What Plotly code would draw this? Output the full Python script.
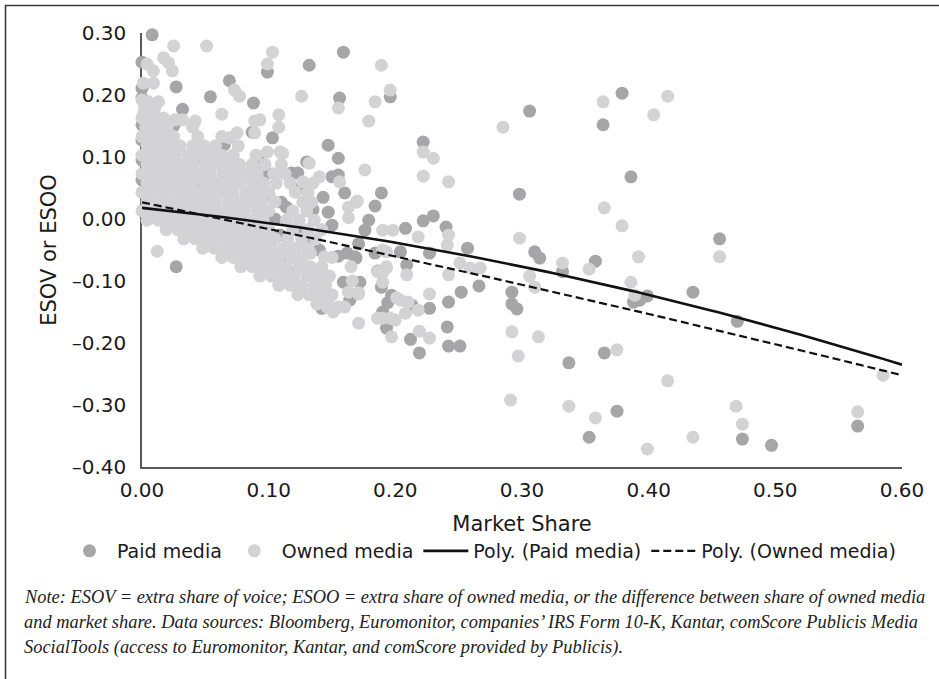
import numpy as np
import plotly.graph_objects as go

# ---------------------------------------------------------------------------
# Data: market share (x) vs. extra share of voice / owned media (y)
# ---------------------------------------------------------------------------
paid_media = [
    (0.008, 0.297), (0.000, 0.253), (0.000, 0.211), (0.000, 0.195), (0.027, 0.213),
    (0.054, 0.197), (0.069, 0.223), (0.088, 0.187), (0.099, 0.237), (0.132, 0.248),
    (0.159, 0.269), (0.156, 0.195), (0.196, 0.197), (0.032, 0.177), (0.087, 0.140),
    (0.103, 0.131), (0.147, 0.119), (0.155, 0.098), (0.222, 0.124), (0.189, 0.042),
    (0.184, 0.021), (0.160, 0.042), (0.155, 0.071), (0.150, 0.068), (0.222, -0.003),
    (0.230, 0.005), (0.240, -0.013), (0.257, -0.047), (0.208, -0.015), (0.179, -0.002),
    (0.168, -0.061), (0.162, -0.055), (0.155, -0.060), (0.184, -0.055), (0.209, -0.074),
    (0.172, -0.102), (0.189, -0.110), (0.197, -0.123), (0.194, -0.135), (0.227, -0.144),
    (0.213, -0.139), (0.193, -0.176), (0.266, -0.108), (0.252, -0.118), (0.242, -0.134),
    (0.241, -0.174), (0.242, -0.205), (0.251, -0.205), (0.219, -0.216), (0.212, -0.194),
    (0.190, -0.150), (0.186, -0.084), (0.204, -0.053), (0.171, -0.040), (0.169, -0.063),
    (0.159, -0.102), (0.164, -0.131), (0.142, -0.144), (0.292, -0.118), (0.292, -0.137),
    (0.296, -0.145), (0.306, 0.174), (0.379, 0.203), (0.364, 0.152), (0.386, 0.068),
    (0.298, 0.040), (0.456, -0.032), (0.310, -0.053), (0.314, -0.063), (0.358, -0.068),
    (0.332, -0.085), (0.399, -0.124), (0.393, -0.131), (0.388, -0.134), (0.435, -0.118),
    (0.470, -0.165), (0.337, -0.232), (0.365, -0.216), (0.375, -0.310), (0.353, -0.352),
    (0.474, -0.355), (0.497, -0.365), (0.565, -0.334), (0.027, -0.077), (0.227, -0.055),
    (0.176, -0.018), (0.150, -0.010), (0.147, 0.011), (0.143, 0.035), (0.110, 0.027),
    (0.114, 0.019), (0.099, 0.074), (0.118, 0.074), (0.123, 0.074), (0.130, 0.092),
    (0.093, 0.074), (0.076, 0.077), (0.062, 0.090), (0.020, 0.116), (0.039, 0.047),
    (0.067, 0.098), (0.092, 0.098), (0.000, 0.152), (0.000, 0.127), (0.000, 0.095),
    (0.000, 0.063), (0.135, 0.015), (0.125, -0.021), (0.109, -0.026),
    (0.005, 0.130), (0.010, 0.100), (0.015, 0.070), (0.020, 0.040), (0.030, 0.010),
    (0.045, 0.060), (0.050, 0.020), (0.060, -0.030), (0.070, 0.050), (0.080, 0.000),
    (0.085, 0.030), (0.095, -0.050), (0.100, 0.040), (0.110, -0.060), (0.120, -0.090),
    (0.125, 0.050), (0.130, -0.040), (0.140, -0.100), (0.045, 0.100), (0.025, 0.150),
    (0.035, -0.020), (0.065, 0.120), (0.105, 0.000), (0.140, -0.050),
]

owned_media = [
    (0.025, 0.279), (0.051, 0.279), (0.004, 0.250), (0.017, 0.260), (0.021, 0.252),
    (0.024, 0.239), (0.009, 0.239), (0.001, 0.219), (0.009, 0.219), (0.000, 0.192),
    (0.005, 0.189), (0.013, 0.189), (0.073, 0.208), (0.077, 0.198), (0.063, 0.169),
    (0.026, 0.160), (0.032, 0.160), (0.042, 0.158), (0.001, 0.168), (0.089, 0.158),
    (0.089, 0.139), (0.075, 0.139), (0.069, 0.131), (0.103, 0.269), (0.099, 0.250),
    (0.189, 0.248), (0.196, 0.208), (0.184, 0.189), (0.179, 0.158), (0.155, 0.179),
    (0.126, 0.198), (0.108, 0.168), (0.108, 0.148), (0.093, 0.160), (0.132, 0.090),
    (0.176, 0.079), (0.111, 0.106), (0.099, 0.108), (0.109, 0.108), (0.169, 0.027),
    (0.163, 0.002), (0.222, 0.108), (0.230, 0.098), (0.222, 0.069), (0.242, 0.060),
    (0.251, -0.071), (0.218, -0.029), (0.190, -0.018), (0.198, -0.018), (0.193, -0.053),
    (0.193, -0.077), (0.166, -0.100), (0.163, -0.118), (0.171, -0.119), (0.186, -0.085),
    (0.201, -0.127), (0.210, -0.134), (0.208, -0.152), (0.218, -0.147), (0.200, -0.163),
    (0.171, -0.168), (0.186, -0.160), (0.190, -0.160), (0.196, -0.160), (0.242, -0.026),
    (0.241, -0.042), (0.242, -0.090), (0.259, -0.079), (0.267, -0.079), (0.227, -0.121),
    (0.219, -0.181), (0.227, -0.192), (0.197, -0.190), (0.204, -0.131), (0.190, -0.102),
    (0.190, -0.087), (0.193, -0.079), (0.209, -0.090), (0.190, -0.050), (0.144, -0.061),
    (0.133, -0.055), (0.171, -0.121), (0.160, -0.142), (0.155, -0.142), (0.151, -0.150),
    (0.146, -0.142), (0.285, 0.148), (0.364, 0.189), (0.415, 0.198), (0.404, 0.168),
    (0.365, 0.018), (0.379, -0.011), (0.298, -0.031), (0.456, -0.061), (0.353, -0.081),
    (0.332, -0.071), (0.392, -0.061), (0.386, -0.102), (0.389, -0.123), (0.306, -0.092),
    (0.310, -0.110), (0.292, -0.182), (0.313, -0.190), (0.297, -0.221), (0.375, -0.211),
    (0.415, -0.261), (0.291, -0.292), (0.337, -0.302), (0.358, -0.321), (0.399, -0.371),
    (0.435, -0.352), (0.469, -0.302), (0.474, -0.331), (0.565, -0.311), (0.585, -0.252),
    (0.012, -0.052), (0.127, 0.060), (0.135, 0.058), (0.140, 0.068), (0.156, 0.060),
    (0.170, 0.029), (0.163, 0.019), (0.134, 0.027), (0.127, 0.027),
]

# Dense block of small-share brands, listed row by row (ESOO level, market shares)
owned_core_rows = [
    (0.178, [0.002, 0.010]),
    (0.163, [0.000, 0.008, 0.017]),
    (0.148, [0.003, 0.011, 0.020, 0.040]),
    (0.133, [0.000, 0.008, 0.016, 0.025, 0.044, 0.063]),
    (0.118, [0.004, 0.012, 0.021, 0.030, 0.040, 0.049, 0.058, 0.076]),
    (0.103, [0.000, 0.009, 0.017, 0.026, 0.036, 0.045, 0.054, 0.063, 0.072, 0.090]),
    (0.088, [0.004, 0.013, 0.022, 0.031, 0.040, 0.050, 0.059, 0.068, 0.077, 0.087, 0.097, 0.110]),
    (0.073, [0.000, 0.009, 0.018, 0.027, 0.036, 0.045, 0.054, 0.064, 0.073, 0.082, 0.091, 0.104, 0.113]),
    (0.058, [0.004, 0.013, 0.022, 0.031, 0.040, 0.050, 0.059, 0.068, 0.077, 0.087, 0.096, 0.106, 0.117]),
    (0.043, [0.000, 0.009, 0.018, 0.027, 0.036, 0.045, 0.054, 0.063, 0.072, 0.082, 0.091, 0.100, 0.121, 0.131]),
    (0.028, [0.004, 0.013, 0.022, 0.031, 0.040, 0.049, 0.058, 0.068, 0.077, 0.086, 0.095, 0.105]),
    (0.013, [0.000, 0.009, 0.018, 0.027, 0.036, 0.045, 0.054, 0.063, 0.072, 0.081, 0.091, 0.100, 0.119, 0.130]),
    (-0.002, [0.004, 0.013, 0.022, 0.031, 0.040, 0.049, 0.058, 0.067, 0.076, 0.086, 0.095, 0.114, 0.124, 0.136]),
    (-0.017, [0.019, 0.028, 0.037, 0.046, 0.055, 0.064, 0.073, 0.082, 0.091, 0.100, 0.119, 0.131, 0.142]),
    (-0.032, [0.033, 0.042, 0.051, 0.060, 0.069, 0.078, 0.087, 0.096, 0.105, 0.115, 0.126, 0.137]),
    (-0.047, [0.048, 0.057, 0.066, 0.075, 0.084, 0.093, 0.102, 0.112, 0.121, 0.131]),
    (-0.062, [0.063, 0.072, 0.081, 0.090, 0.099, 0.108, 0.118, 0.127, 0.150]),
    (-0.077, [0.078, 0.087, 0.096, 0.105, 0.114, 0.124, 0.133, 0.142, 0.165]),
    (-0.092, [0.093, 0.102, 0.111, 0.120, 0.130, 0.139, 0.148]),
    (-0.107, [0.108, 0.117, 0.126, 0.136, 0.145]),
    (-0.122, [0.123, 0.132, 0.141, 0.150]),
    (-0.137, [0.138, 0.147]),
]

# Second-order polynomial trend lines: (intercept, linear, quadratic)
paid_trend_coef = (0.018, -0.2096, -0.3535)
owned_trend_coef = (0.027, -0.4213, -0.0729)

x_ticks = [0.0, 0.1, 0.2, 0.3, 0.4, 0.5, 0.6]
x_tick_text = ["0.00", "0.10", "0.20", "0.30", "0.40", "0.50", "0.60"]
y_ticks = [0.3, 0.2, 0.1, 0.0, -0.1, -0.2, -0.3, -0.4]
y_tick_text = ["0.30", "0.20", "0.10", "0.00", "\u20130.10", "\u20130.20", "\u20130.30", "\u20130.40"]

note_lines = [
    "Note: ESOV = extra share of voice; ESOO = extra share of owned media, or the difference between share of owned media",
    "and market share. Data sources: Bloomberg, Euromonitor, companies\u2019 IRS Form 10-K, Kantar, comScore Publicis Media",
    "SocialTools (access to Euromonitor, Kantar, and comScore provided by Publicis).",
]

# ---------------------------------------------------------------------------
# Assemble series
# ---------------------------------------------------------------------------
paid_x = [p[0] for p in paid_media]
paid_y = [p[1] for p in paid_media]

owned_pts = list(owned_media)
for level, shares in owned_core_rows:
    owned_pts.extend((s, level) for s in shares)
owned_x = [p[0] for p in owned_pts]
owned_y = [p[1] for p in owned_pts]

trend_x = np.linspace(0.0, 0.6, 121)


def poly(coef, x):
    return coef[0] + coef[1] * x + coef[2] * x ** 2


W, H = 939, 679
ML, MR, MT, MB = 142, 37, 33, 212
PW, PH = W - ML - MR, H - MT - MB


def px_to_paper_x(px):
    return (px - ML) / PW


def px_to_paper_y(py):
    return (H - MB - py) / PH


FONT = "DejaVu Sans"
PAID_COLOR = "#a6a6a8"
OWNED_COLOR = "#d3d3d5"

fig = go.Figure()
fig.add_trace(go.Scatter(
    x=paid_x, y=paid_y, mode="markers", name="Paid media",
    marker=dict(color=PAID_COLOR, size=13, line=dict(width=0)),
    cliponaxis=False,
))
fig.add_trace(go.Scatter(
    x=owned_x, y=owned_y, mode="markers", name="Owned media",
    marker=dict(color=OWNED_COLOR, size=13, line=dict(width=0)),
    cliponaxis=False,
))
fig.add_trace(go.Scatter(
    x=trend_x, y=poly(paid_trend_coef, trend_x), mode="lines",
    name="Poly. (Paid media)", line=dict(color="#111111", width=2.6),
))
fig.add_trace(go.Scatter(
    x=trend_x, y=poly(owned_trend_coef, trend_x), mode="lines",
    name="Poly. (Owned media)", line=dict(color="#111111", width=2.2, dash="8px,4px"),
))

annotations = []
for i, line in enumerate(note_lines):
    annotations.append(dict(
        text="<i>" + line + "</i>", xref="paper", yref="paper",
        x=px_to_paper_x(22), y=px_to_paper_y(597 + 25 * i),
        xanchor="left", yanchor="middle", showarrow=False,
        font=dict(family="Liberation Serif", size=18.4, color="#222222"),
    ))

fig.update_layout(
    width=W, height=H,
    margin=dict(l=ML, r=MR, t=MT, b=MB),
    paper_bgcolor="white", plot_bgcolor="white",
    font=dict(family=FONT, color="#1a1a1a"),
    showlegend=True,
    legend=dict(
        orientation="h", x=px_to_paper_x(62), xanchor="left",
        y=px_to_paper_y(551), yanchor="middle",
        font=dict(family=FONT, size=19, color="#1a1a1a"),
        bgcolor="rgba(0,0,0,0)", itemwidth=45,
    ),
    xaxis=dict(
        range=[0, 0.6], tickvals=x_ticks, ticktext=x_tick_text,
        showgrid=False, zeroline=False, showline=True,
        linecolor="#5a5a5a", linewidth=1.6, ticks="",
        ticklabelstandoff=4, layer="below traces",
        tickfont=dict(family=FONT, size=20, color="#1a1a1a"),
        title=dict(text="Market Share", standoff=16,
                   font=dict(family=FONT, size=21, color="#1a1a1a")),
    ),
    yaxis=dict(
        range=[-0.4, 0.3], tickvals=y_ticks, ticktext=y_tick_text,
        showgrid=False, zeroline=False, showline=True,
        linecolor="#5a5a5a", linewidth=1.6, ticks="",
        ticklabelstandoff=10, layer="below traces",
        tickfont=dict(family=FONT, size=20, color="#1a1a1a"),
        title=dict(text="ESOV or ESOO", standoff=9,
                   font=dict(family=FONT, size=21, color="#1a1a1a")),
    ),
    annotations=annotations,
    shapes=[dict(
        type="rect", xref="paper", yref="paper",
        x0=px_to_paper_x(5.5), x1=px_to_paper_x(960),
        y0=px_to_paper_y(700), y1=px_to_paper_y(5.5),
        line=dict(color="#3a3a3a", width=1.6), fillcolor="rgba(0,0,0,0)",
        layer="below",
    )],
)

fig.write_html("out.html")
